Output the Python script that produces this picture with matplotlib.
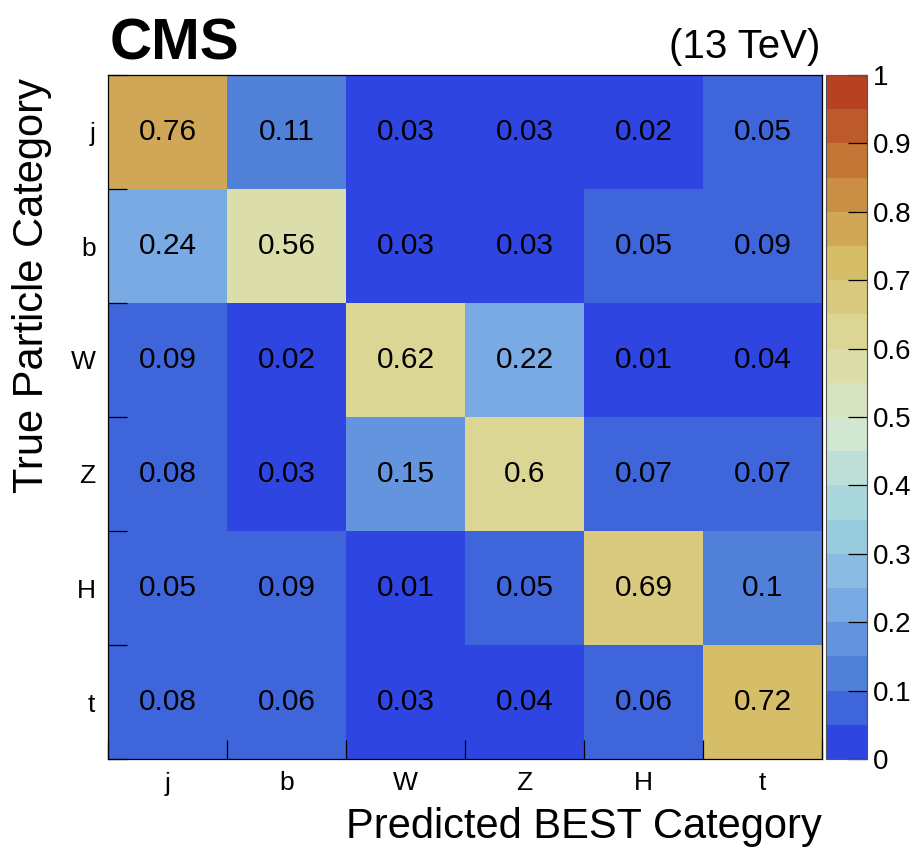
import numpy as np
import matplotlib
matplotlib.use("Agg")
import matplotlib.pyplot as plt
from matplotlib.colors import LinearSegmentedColormap, ListedColormap, BoundaryNorm

plt.rcParams['font.family'] = ['Liberation Sans', 'DejaVu Sans']

# Category labels (predicted along x, true along y, top row first)
predicted_labels = ["j", "b", "W", "Z", "H", "t"]
true_labels = ["j", "b", "W", "Z", "H", "t"]

# Fraction of true particles assigned to each predicted category
row_j = [0.76, 0.11, 0.03, 0.03, 0.02, 0.05]
row_b = [0.24, 0.56, 0.03, 0.03, 0.05, 0.09]
row_W = [0.09, 0.02, 0.62, 0.22, 0.01, 0.04]
row_Z = [0.08, 0.03, 0.15, 0.6, 0.07, 0.07]
row_H = [0.05, 0.09, 0.01, 0.05, 0.69, 0.1]
row_t = [0.08, 0.06, 0.03, 0.04, 0.06, 0.72]

matrix = np.array([row_j, row_b, row_W, row_Z, row_H, row_t])

# Light-temperature style palette, quantised into 20 contour levels
stops = [0.0, 0.125, 0.25, 0.375, 0.5, 0.625, 0.75, 0.875, 1.0]
red = [31, 71, 123, 160, 210, 222, 214, 199, 183]
green = [40, 117, 171, 211, 231, 220, 190, 132, 65]
blue = [234, 214, 228, 222, 210, 160, 105, 60, 34]
base = LinearSegmentedColormap.from_list(
    "lighttemp",
    [(s, (r / 255, g / 255, b / 255)) for s, r, g, b in zip(stops, red, green, blue)],
    N=255,
)
ncont = 20
level_colors = [base(int((i + 0.99) * 255 / ncont) / 254) for i in range(ncont)]
cmap = ListedColormap(level_colors)
levels = np.round(np.linspace(0, 1, ncont + 1), 4)
norm = BoundaryNorm(levels, ncont)

W, H = 915, 848
fig = plt.figure(figsize=(W / 100, H / 100), dpi=100)

ax_l, ax_r, ax_t, ax_b = 108, 822, 75, 759
ax = fig.add_axes([ax_l / W, 1 - ax_b / H, (ax_r - ax_l) / W, (ax_b - ax_t) / H])

n = len(predicted_labels)
# small offset so values sitting on a level edge fall into the upper level
mesh = ax.pcolormesh(np.arange(n + 1), np.arange(n + 1), matrix[::-1] + 1e-9,
                     cmap=cmap, norm=norm, edgecolors="none")
ax.set_xlim(0, n)
ax.set_ylim(0, n)

for i in range(n):
    for j in range(n):
        v = matrix[i, j]
        ax.text(j + 0.5, n - 1 - i + 0.5, f"{v:g}", ha="center", va="center",
                fontsize=21.5, color="black")

# ticks at bin edges, labels at bin centres
ax.set_xticks(np.arange(n + 1))
ax.set_xticklabels([])
ax.set_yticks(np.arange(n + 1))
ax.set_yticklabels([])
ax.set_xticks(np.arange(n) + 0.5, minor=True)
ax.set_xticklabels(predicted_labels, minor=True, fontsize=19)
ax.set_yticks(np.arange(n) + 0.5, minor=True)
ax.set_yticklabels(true_labels[::-1], minor=True, fontsize=19)
ax.tick_params(axis="both", which="major", direction="in", length=14, width=0.9,
               color="black", top=False, right=False)
ax.tick_params(axis="x", which="minor", length=0, pad=9)
ax.tick_params(axis="y", which="minor", length=0, pad=9)
for sp in ax.spines.values():
    sp.set_linewidth(0.9)
    sp.set_color("black")

# colour scale
cax = fig.add_axes([826 / W, 1 - ax_b / H, 41 / W, (ax_b - ax_t) / H])
cb = fig.colorbar(mesh, cax=cax, boundaries=levels, ticks=np.linspace(0, 1, 11))
cb.ax.set_yticklabels([f"{t:g}" for t in np.round(np.linspace(0, 1, 11), 1)])
cb.ax.tick_params(direction="in", length=14, width=0.9, labelsize=20, pad=4,
                  color="black")
cb.outline.set_linewidth(0.8)
cb.outline.set_edgecolor("#555555")
cb.ax.minorticks_off()

# titles
fig.text(ax_r / W, 1 - 838 / H, "Predicted BEST Category", ha="right",
         va="baseline", fontsize=30)
fig.text(32 / W, 1 - 78 / H, "True Particle Category", ha="center", va="top",
         rotation=90, fontsize=30)
fig.text(110 / W, 1 - 60 / H, "CMS", ha="left", va="baseline", fontsize=42,
         fontweight="bold")
fig.text(820 / W, 1 - 58 / H, "(13 TeV)", ha="right", va="baseline", fontsize=29)

fig.savefig("out.png", dpi=100)
